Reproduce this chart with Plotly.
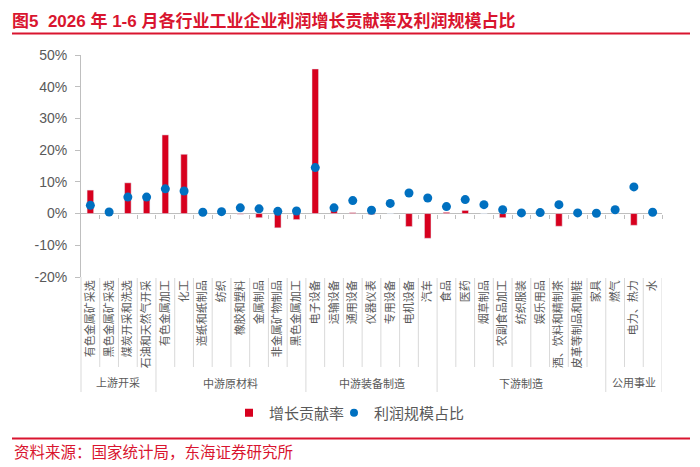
import plotly.graph_objects as go

categories = [
    "有色金属矿采选", "黑色金属矿采选", "煤炭开采和洗选", "石油和天然气开采",
    "有色金属加工", "化工", "造纸和纸制品", "纺织", "橡胶和塑料", "金属制品", "非金属矿物制品", "黑色金属加工",
    "电子设备", "运输设备", "通用设备", "仪器仪表", "专用设备", "电机设备", "汽车",
    "食品", "医药", "烟草制品", "农副食品加工", "纺织服装", "娱乐用品", "酒、饮料和精制茶", "皮革等制品和制鞋", "家具",
    "燃气", "电力、热力", "水",
]
groups = ["上游开采", "中游原材料", "中游装备制造", "下游制造", "公用事业"]
group_sizes = [4, 8, 7, 9, 3]

contrib = [7.4, 0.0, 9.7, 4.5, 24.8, 18.7, 0.0, 0.0, -0.2, -1.3, -4.5, -1.9,
           45.6, 1.0, 0.3, -0.3, 0.0, -4.1, -7.8,
           0.4, 1.0, 0.0, -1.3, -0.2, 0.0, -4.0, 0.0, 0.0,
           0.0, -3.7, 0.0]
share = [2.6, 0.5, 5.2, 5.2, 7.8, 7.1, 0.4, 0.6, 1.8, 1.5, 0.7, 0.8,
         14.5, 1.8, 4.1, 1.05, 3.2, 6.5, 4.9,
         2.2, 4.4, 2.8, 1.2, 0.2, 0.3, 2.8, 0.2, 0.1,
         1.2, 8.4, 0.4]
y_ticks = [-20, -10, 0, 10, 20, 30, 40, 50]

RED = "#D7001E"
BLUE = "#0070C0"
TITLE_RED = "#D9152F"
GRAY_TXT = "#595959"
AX = "#BFBFBF"
SEP = "#D9D9D9"
FONT = "Liberation Sans, Noto Sans CJK SC, sans-serif"

n = len(categories)
xs = list(range(n))
x_range = [-0.5, n - 0.5]

fig = go.Figure()
fig.add_bar(x=xs, y=contrib, marker_color=RED, width=0.35, showlegend=False,
            name="增长贡献率")
fig.add_scatter(x=xs, y=share, mode="markers", xaxis="x2",
                marker=dict(color=BLUE, size=9), showlegend=False, name="利润规模占比")
# legend entries
fig.add_scatter(x=[None], y=[None], mode="markers", name="增长贡献率", legend="legend",
                marker=dict(symbol="square", color=RED, size=8))
fig.add_scatter(x=[None], y=[None], mode="markers", name="利润规模占比", legend="legend2",
                marker=dict(color=BLUE, size=8))

# plot area geometry (px)
L, R, T, B = 81, 38, 55, 190
W, H = 700, 467
pw, ph = W - L - R, H - T - B

def py(p):  # pixel y -> paper y
    return (H - B - p) / ph

def px(p):  # pixel x -> paper x
    return (p - L) / pw

shapes = []
acc = 0
group_edges = set()
for s in group_sizes:
    acc += s
    group_edges.add(acc)
for k in range(1, n + 1):
    long = k in group_edges
    shapes.append(dict(type="line", xref="x", yref="paper", x0=k - 0.5, x1=k - 0.5,
                       y0=py(278), y1=py(392 if long else 367),
                       line=dict(color=SEP, width=1)))
# left edge extension
shapes.append(dict(type="line", xref="paper", yref="paper", x0=0, x1=0,
                   y0=0, y1=py(392), line=dict(color=SEP, width=1)))
# red rules
for yy in (33.5, 438.5):
    shapes.append(dict(type="line", xref="paper", yref="paper", x0=px(12), x1=px(690),
                       y0=py(yy), y1=py(yy), line=dict(color=TITLE_RED, width=2)))

annotations = []
start = 0
for g, s in zip(groups, group_sizes):
    c = start + (s - 1) / 2
    annotations.append(dict(x=c, y=py(383), xref="x", yref="paper", text=g,
                            showarrow=False, font=dict(size=11, color=GRAY_TXT),
                            xanchor="center", yanchor="middle"))
    start += s
annotations.append(dict(x=px(12), y=py(452), xref="paper", yref="paper",
                        text="资料来源：国家统计局，东海证券研究所", showarrow=False,
                        xanchor="left", yanchor="middle",
                        font=dict(size=15.5, color=TITLE_RED)))

legend_style = dict(orientation="h", xanchor="left", y=py(413), yanchor="middle",
                    font=dict(size=15, color=GRAY_TXT), itemwidth=30,
                    bgcolor="rgba(0,0,0,0)")

fig.update_layout(
    width=W, height=H,
    margin=dict(l=L, r=R, t=T, b=B, pad=0),
    paper_bgcolor="white", plot_bgcolor="white",
    font=dict(family=FONT, color=GRAY_TXT),
    title=dict(text="<b>图5  2026 年 1-6 月各行业工业企业利润增长贡献率及利润规模占比</b>",
               x=12 / W, xanchor="left", xref="container",
               y=1 - 21.5 / H, yanchor="middle", yref="container",
               font=dict(size=17, color=TITLE_RED, family=FONT)),
    xaxis=dict(range=x_range, tickvals=xs, ticktext=categories, tickangle=-90,
               showline=False, ticks="", showgrid=False, zeroline=False,
               tickfont=dict(size=11, color=GRAY_TXT)),
    xaxis2=dict(range=x_range, overlaying="x", anchor="free",
                position=(0 - y_ticks[0]) / (y_ticks[-1] - y_ticks[0]),
                tickvals=[k + 0.5 for k in range(n)], ticks="outside", ticklen=4,
                tickcolor=AX, showticklabels=False, showline=False,
                showgrid=False, zeroline=False),
    yaxis=dict(range=[y_ticks[0], y_ticks[-1]], tickvals=y_ticks,
               ticktext=[f"{v}%" for v in y_ticks],
               showline=True, linecolor=AX, ticks="outside", ticklen=5, tickcolor=AX,
               ticklabelstandoff=5,
               zeroline=True, zerolinecolor=AX, zerolinewidth=1, showgrid=False,
               tickfont=dict(size=14, color=GRAY_TXT)),
    legend=dict(x=px(229), **legend_style),
    legend2=dict(x=px(334), **legend_style),
    shapes=shapes,
    annotations=annotations,
)

fig.write_html("out.html", config={"displayModeBar": False},
               post_script="document.body.style.margin='0';")
